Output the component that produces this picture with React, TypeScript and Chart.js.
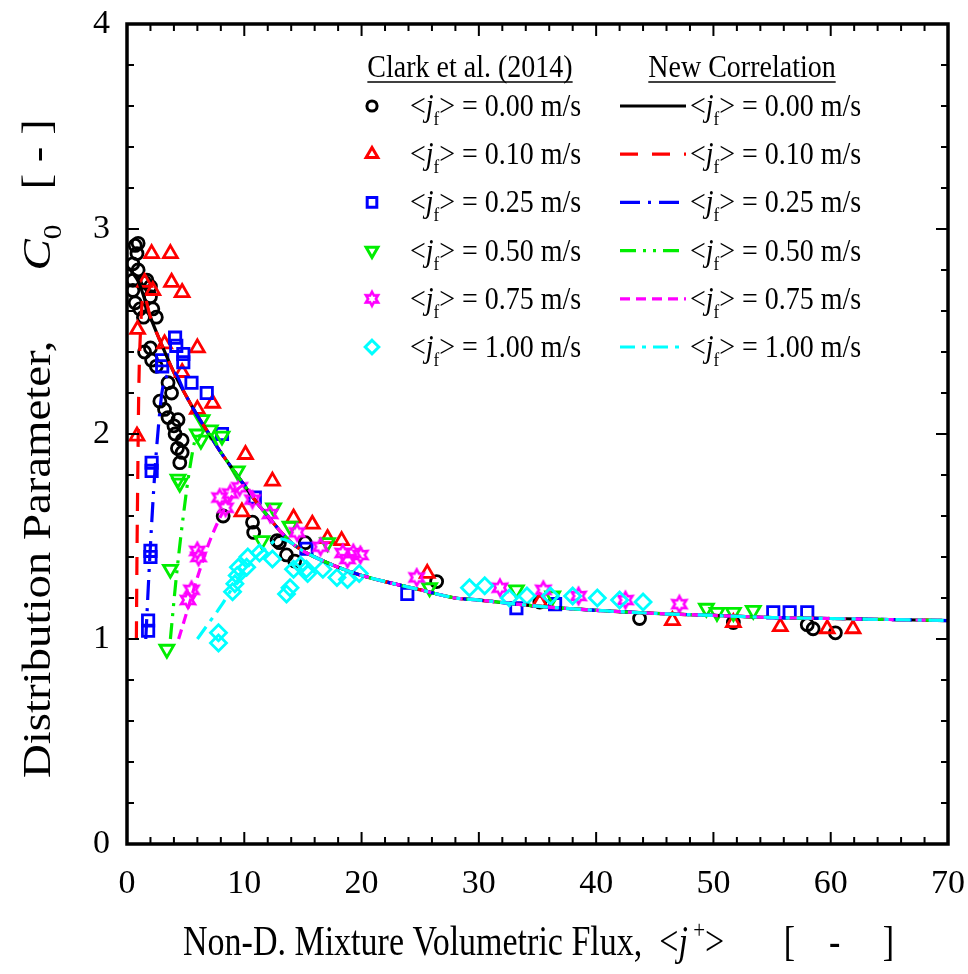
import React, { useEffect, useRef } from "react";
import { Chart, registerables } from "chart.js";

Chart.register(...registerables);

const FONT = '"Liberation Serif", "Times New Roman", serif';

// ---- axes ----
const X_TICKS = [0, 10, 20, 30, 40, 50, 60, 70];
const Y_TICKS = [0, 1, 2, 3, 4];

// ---- series meta ----
const JF_LABELS = ["0.00", "0.10", "0.25", "0.50", "0.75", "1.00"];
const COLORS = ["#000000", "#ff0000", "#0000ff", "#00ee00", "#ff00ff", "#00ffff"];

// ---- Clark et al. (2014) data ----
const d000X = [0.7, 0.95, 0.85, 0.5, 0.95, 0.5, 1.5, 1.7, 2.0, 0.5, 2.0, 0.7, 1.1, 2.2, 1.4, 2.5, 1.5, 2.0, 2.1, 2.5, 3.5, 3.8, 2.8, 3.2, 3.5, 4.35, 4.0, 4.1, 4.7, 4.3, 4.7, 4.5, 8.2, 10.7, 10.8, 12.8, 13.0, 13.6, 14.3, 15.2, 26.4, 35.2, 43.7, 51.7, 58.0, 58.5, 60.4];
const d000Y = [2.92, 2.93, 2.88, 2.83, 2.80, 2.75, 2.74, 2.75, 2.72, 2.70, 2.67, 2.64, 2.61, 2.61, 2.57, 2.57, 2.40, 2.42, 2.36, 2.33, 2.25, 2.20, 2.16, 2.12, 2.08, 2.07, 2.04, 2.00, 1.97, 1.93, 1.91, 1.86, 1.60, 1.57, 1.52, 1.48, 1.47, 1.41, 1.38, 1.47, 1.28, 1.18, 1.10, 1.08, 1.07, 1.05, 1.03];

const d010X = [2.1, 3.7, 1.5, 2.2, 3.8, 4.7, 0.9, 3.2, 6.0, 4.7, 7.3, 6.0, 0.85, 10.1, 9.8, 12.4, 14.2, 15.8, 17.1, 18.3, 25.6, 35.2, 46.5, 51.7, 55.7, 59.7, 61.9];
const d010Y = [2.88, 2.88, 2.74, 2.70, 2.74, 2.69, 2.51, 2.44, 2.42, 2.30, 2.15, 2.12, 1.99, 1.90, 1.62, 1.77, 1.59, 1.56, 1.49, 1.48, 1.32, 1.18, 1.09, 1.08, 1.06, 1.05, 1.05];

const d025X = [4.1, 4.2, 4.8, 4.8, 3.0, 3.0, 5.5, 6.8, 8.1, 2.1, 2.1, 2.0, 2.0, 1.8, 1.8, 10.9, 15.3, 23.9, 33.2, 36.5, 55.1, 56.5, 58.0];
const d025Y = [2.47, 2.43, 2.39, 2.35, 2.36, 2.33, 2.25, 2.20, 2.00, 1.86, 1.82, 1.43, 1.40, 1.09, 1.04, 1.69, 1.44, 1.22, 1.15, 1.17, 1.13, 1.13, 1.13];

const d050X = [4.35, 4.5, 3.7, 3.4, 6.0, 6.3, 7.1, 8.1, 9.4, 6.4, 11.5, 12.5, 13.9, 17.1, 25.8, 33.2, 36.3, 49.4, 50.3, 51.7, 53.4];
const d050Y = [1.78, 1.76, 1.34, 0.95, 2.00, 1.97, 2.02, 1.99, 1.82, 2.07, 1.48, 1.64, 1.55, 1.47, 1.25, 1.24, 1.21, 1.15, 1.13, 1.13, 1.14];

const d075X = [6.0, 6.1, 5.5, 5.2, 7.9, 8.8, 8.4, 9.6, 10.7, 12.2, 14.5, 16.5, 18.4, 19.3, 19.9, 18.8, 24.7, 31.8, 35.5, 38.5, 42.5, 47.1];
const d075Y = [1.43, 1.40, 1.24, 1.19, 1.69, 1.71, 1.64, 1.74, 1.68, 1.61, 1.52, 1.45, 1.42, 1.42, 1.41, 1.39, 1.30, 1.25, 1.24, 1.21, 1.19, 1.17];

const d100X = [7.8, 7.8, 9.0, 9.2, 9.4, 9.5, 10.2, 10.3, 11.3, 12.4, 13.6, 13.9, 14.2, 14.8, 15.3, 15.4, 16.7, 17.9, 18.8, 19.8, 29.2, 30.5, 32.6, 34.1, 36.1, 38.0, 40.1, 42.0, 44.0];
const d100Y = [1.03, 0.98, 1.23, 1.27, 1.31, 1.35, 1.35, 1.40, 1.42, 1.39, 1.22, 1.25, 1.34, 1.36, 1.34, 1.32, 1.34, 1.30, 1.29, 1.32, 1.25, 1.26, 1.20, 1.21, 1.21, 1.21, 1.20, 1.19, 1.18];

// ---- New Correlation curves ----
// common (j_f = 0) curve
const c000X = [0.3, 1, 2, 3, 4, 5, 6, 7, 8, 9, 10, 11, 12, 13, 14, 15, 16, 18, 20, 22, 25, 28, 30, 35, 40, 45, 50, 55, 60, 65, 70];
const c000Y = [2.80, 2.74, 2.57, 2.43, 2.30, 2.19, 2.09, 2.00, 1.91, 1.83, 1.75, 1.67, 1.60, 1.53, 1.47, 1.43, 1.40, 1.35, 1.31, 1.28, 1.24, 1.20, 1.19, 1.16, 1.14, 1.125, 1.115, 1.105, 1.10, 1.095, 1.09];
// rising branches before joining the common curve
const c010HeadX = [0.8, 0.85, 0.92, 1.0, 1.15, 1.4];
const c010HeadY = [1.0, 1.4, 1.8, 2.2, 2.5, 2.68];
const c025HeadX = [1.6, 1.9, 2.3, 2.7, 3.1];
const c025HeadY = [1.0, 1.35, 1.75, 2.05, 2.24];
const c050HeadX = [3.7, 4.2, 4.8, 5.4, 5.9];
const c050HeadY = [1.0, 1.3, 1.6, 1.85, 1.98];
const c075HeadX = [4.4, 5.2, 6.0, 7.0, 8.0, 9.0];
const c075HeadY = [1.0, 1.15, 1.3, 1.47, 1.6, 1.7];
const c100HeadX = [6.0, 7.0, 8.0, 9.0, 10.0, 11.0, 12.0, 13.0];
const c100HeadY = [1.0, 1.08, 1.16, 1.25, 1.33, 1.4, 1.45, 1.49];

const DASHES = [[], [18, 14], [20, 8, 3, 8], [16, 7, 3, 7, 3, 7], [10, 6], [15, 7, 4, 7]];
const POINT_STYLES = ["circle", "triangle", "rect", "triangle", "star6", "rectRot"];
const POINT_ROT = [0, 0, 0, 180, 0, 0];
const POINT_R = [6, 8, 8, 8, 8, 8];

const TEXT_SY = 1.15; // vertical stretch of the lettering

function pts(xs: number[], ys: number[]) {
  return xs.map((x, i) => ({ x, y: ys[i] }));
}
function curve(hx: number[], hy: number[]) {
  const last = hx.length ? hx[hx.length - 1] : -1;
  const head = pts(hx, hy);
  const tail = pts(c000X, c000Y).filter((p) => p.x > last + 0.5);
  return head.concat(tail);
}

function makeStar(color: string, r: number) {
  const size = Math.ceil(r * 2 + 6);
  const cv = document.createElement("canvas");
  cv.width = size;
  cv.height = size;
  const c = cv.getContext("2d")!;
  const cx = size / 2, cy = size / 2;
  c.strokeStyle = color;
  c.lineWidth = 2.6;
  c.lineJoin = "miter";
  c.beginPath();
  for (let k = 0; k < 12; k++) {
    const ang = -Math.PI / 2 + (k * Math.PI) / 6;
    const rr = k % 2 === 0 ? r : r * 0.55;
    const px = cx + rr * Math.cos(ang), py = cy + rr * Math.sin(ang);
    if (k === 0) c.moveTo(px, py); else c.lineTo(px, py);
  }
  c.closePath();
  c.stroke();
  return cv;
}

type Seg = { t: string; k?: "i" | "sub" | "sup" };
function segFont(k: Seg["k"], fs: number) {
  if (k === "i") return `italic ${fs}px ${FONT}`;
  if (k === "sub" || k === "sup") return `${Math.round(fs * 0.62)}px ${FONT}`;
  return `${fs}px ${FONT}`;
}
// draws text with baseline at (x, y); sx / sy stretch the glyphs
function drawSegs(ctx: CanvasRenderingContext2D, segs: Seg[], x: number, y: number, fs: number, sx = 1, sy = TEXT_SY) {
  ctx.save();
  ctx.translate(x, y);
  ctx.scale(sx, sy);
  let cx = 0;
  for (const s of segs) {
    ctx.font = segFont(s.k, fs);
    const dy = s.k === "sub" ? fs * 0.28 : s.k === "sup" ? -fs * 0.42 : 0;
    ctx.fillText(s.t, cx, dy);
    cx += ctx.measureText(s.t).width;
  }
  ctx.restore();
}
function jfSegs(v: string): Seg[] {
  return [{ t: "<" }, { t: "j", k: "i" }, { t: "f", k: "sub" }, { t: "> = " + v + " m/s" }];
}

function drawMarker(ctx: CanvasRenderingContext2D, i: number, x: number, y: number, star: HTMLCanvasElement | null) {
  const r = POINT_R[i] * 0.85;
  ctx.save();
  ctx.strokeStyle = COLORS[i];
  ctx.lineWidth = 3;
  ctx.beginPath();
  const st = POINT_STYLES[i];
  if (st === "circle") {
    ctx.arc(x, y, r, 0, Math.PI * 2);
  } else if (st === "triangle") {
    const s = POINT_ROT[i] === 180 ? -1 : 1;
    ctx.moveTo(x, y - s * r);
    ctx.lineTo(x + r * 0.866, y + s * r * 0.5);
    ctx.lineTo(x - r * 0.866, y + s * r * 0.5);
    ctx.closePath();
  } else if (st === "rect") {
    const h = r / Math.SQRT2;
    ctx.rect(x - h, y - h, 2 * h, 2 * h);
  } else if (st === "rectRot") {
    ctx.moveTo(x, y - r); ctx.lineTo(x + r, y); ctx.lineTo(x, y + r); ctx.lineTo(x - r, y); ctx.closePath();
  }
  ctx.stroke();
  ctx.restore();
  if (st === "star6" && star) ctx.drawImage(star, x - star.width / 2, y - star.height / 2);
}

function zeroPad(s: any) {
  s.paddingLeft = 0;
  s.paddingRight = 0;
  s.paddingTop = 0;
  s.paddingBottom = 0;
}

const decorPlugin = {
  id: "decor",
  afterDraw(chart: any) {
    const { ctx, chartArea } = chart;
    const { left, right, top, bottom } = chartArea;
    const xs = chart.scales.x, ys = chart.scales.y;
    ctx.save();
    ctx.strokeStyle = "#000";
    ctx.lineCap = "butt";
    // inward ticks on all four sides
    ctx.lineWidth = 2;
    for (let v = 0; v <= 70; v += 2) {
      const px = xs.getPixelForValue(v);
      const len = v % 10 === 0 ? 12 : 7;
      ctx.beginPath();
      ctx.moveTo(px, bottom); ctx.lineTo(px, bottom - len);
      ctx.moveTo(px, top); ctx.lineTo(px, top + len);
      ctx.stroke();
    }
    for (let i = 0; i <= 20; i++) {
      const py = ys.getPixelForValue(i * 0.2);
      const len = i % 5 === 0 ? 12 : 7;
      ctx.beginPath();
      ctx.moveTo(left, py); ctx.lineTo(left + len, py);
      ctx.moveTo(right, py); ctx.lineTo(right - len, py);
      ctx.stroke();
    }
    ctx.lineWidth = 3.5;
    ctx.strokeRect(left, top, right - left, bottom - top);

    // axis titles
    ctx.fillStyle = "#000";
    ctx.textBaseline = "alphabetic";
    const xfs = 34;
    const xt: Seg[] = [{ t: "Non-D. Mixture Volumetric Flux,  <" }, { t: "j", k: "i" }, { t: " +", k: "sup" }, { t: ">       [    -     ]" }];
    drawSegs(ctx, xt, 183, 955, xfs, 1, 1.22);
    const yfs = 40;
    const ystretch = 1.17;
    const yt: Seg[] = [{ t: "Distribution Parameter,      " }, { t: "C", k: "i" }, { t: "0", k: "sub" }, { t: "   [ - ]" }];
    ctx.save();
    ctx.translate(50, 778);
    ctx.rotate(-Math.PI / 2);
    drawSegs(ctx, yt, 0, 0, yfs, ystretch, 1);
    ctx.restore();

    // legend
    const lfs = 28;
    const headers = [{ t: "Clark et al. (2014)", cx: 470 }, { t: "New Correlation", cx: 742 }];
    for (const h of headers) {
      ctx.font = `${lfs}px ${FONT}`;
      const w = ctx.measureText(h.t).width;
      drawSegs(ctx, [{ t: h.t }], h.cx - w / 2, 77, lfs);
      ctx.lineWidth = 1.5;
      ctx.beginPath();
      ctx.moveTo(h.cx - w / 2, 82); ctx.lineTo(h.cx + w / 2, 82);
      ctx.stroke();
    }
    for (let i = 0; i < 6; i++) {
      const cy = 106 + i * 48.2;
      drawMarker(ctx, i, 372, cy, chart.$starSmall || null);
      ctx.fillStyle = "#000";
      drawSegs(ctx, jfSegs(JF_LABELS[i]), 410, cy + 10, lfs);
      ctx.save();
      ctx.strokeStyle = COLORS[i];
      ctx.lineWidth = 3.2;
      ctx.setLineDash(DASHES[i]);
      ctx.beginPath();
      ctx.moveTo(620, cy); ctx.lineTo(686, cy);
      ctx.stroke();
      ctx.restore();
      drawSegs(ctx, jfSegs(JF_LABELS[i]), 690, cy + 10, lfs);
    }
    ctx.restore();
  },
};

export default function App() {
  const ref = useRef<HTMLCanvasElement | null>(null);
  useEffect(() => {
    if (!ref.current) return;
    const star = makeStar(COLORS[4], 8);
    const starSmall = makeStar(COLORS[4], 7);
    const scatterData = [
      pts(d000X, d000Y), pts(d010X, d010Y), pts(d025X, d025Y),
      pts(d050X, d050Y), pts(d075X, d075Y), pts(d100X, d100Y),
    ];
    const curves = [
      pts(c000X, c000Y),
      curve(c010HeadX, c010HeadY),
      curve(c025HeadX, c025HeadY),
      curve(c050HeadX, c050HeadY),
      curve(c075HeadX, c075HeadY),
      curve(c100HeadX, c100HeadY),
    ];
    const datasets: any[] = [];
    scatterData.forEach((d, i) => {
      datasets.push({
        label: "Clark " + JF_LABELS[i],
        data: d,
        showLine: false,
        pointStyle: POINT_STYLES[i] === "star6" ? star : POINT_STYLES[i],
        rotation: POINT_ROT[i],
        pointRadius: POINT_R[i],
        borderColor: COLORS[i],
        backgroundColor: "rgba(0,0,0,0)",
        pointBorderWidth: 2.8,
        order: 20 - i,
      });
    });
    curves.forEach((d, i) => {
      datasets.push({
        label: "Corr " + JF_LABELS[i],
        data: d,
        showLine: true,
        pointRadius: 0,
        borderColor: COLORS[i],
        borderWidth: 3.2,
        borderDash: DASHES[i],
        cubicInterpolationMode: "monotone",
        fill: false,
        order: 10 - i,
      });
    });
    const chart = new Chart(ref.current, {
      type: "scatter",
      data: { datasets },
      options: {
        animation: false,
        responsive: true,
        maintainAspectRatio: false,
        layout: { padding: { left: 0, top: 24, right: 20, bottom: 0 } },
        plugins: { legend: { display: false }, tooltip: { enabled: false } },
        scales: {
          x: {
            type: "linear",
            min: 0,
            max: 70,
            afterBuildTicks: (s: any) => { s.ticks = X_TICKS.map((v) => ({ value: v })); },
            afterFit: (s: any) => { s.height = 130; zeroPad(s); },
            grid: { display: false, drawTicks: false },
            border: { display: false },
            ticks: { color: "#000", font: { family: FONT, size: 34 }, padding: 20, maxRotation: 0 },
          },
          y: {
            type: "linear",
            min: 0,
            max: 4,
            afterBuildTicks: (s: any) => { s.ticks = Y_TICKS.map((v) => ({ value: v })); },
            afterFit: (s: any) => { s.width = 127; zeroPad(s); },
            grid: { display: false, drawTicks: false },
            border: { display: false },
            ticks: { color: "#000", font: { family: FONT, size: 34 }, padding: 17 },
          },
        },
      },
      plugins: [decorPlugin],
    });
    (chart as any).$starSmall = starSmall;
    chart.draw();
    return () => chart.destroy();
  }, []);
  return (
    <div style={{ position: "fixed", left: 0, top: 0, width: 968, height: 974, background: "#fff" }}>
      <canvas ref={ref} />
    </div>
  );
}
